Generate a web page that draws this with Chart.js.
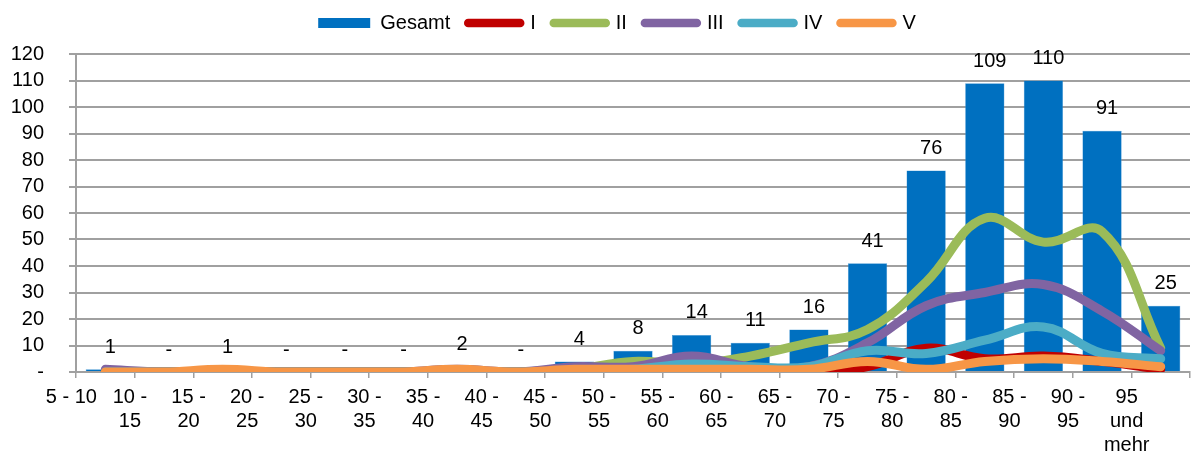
<!DOCTYPE html>
<html>
<head>
<meta charset="utf-8">
<script src="https://cdn.jsdelivr.net/npm/chart.js@4"></script>
<style>
  html, body { margin: 0; padding: 0; background: #fff; }
  #wrap { width: 1192px; height: 454px; }
</style>
</head>
<body>
<div id="wrap"><canvas id="alter"></canvas></div>
<script>
const categories = ["5 - 10", "10 - 15", "15 - 20", "20 - 25", "25 - 30", "30 - 35", "35 - 40", "40 - 45", "45 - 50",
  "50 - 55", "55 - 60", "60 - 65", "65 - 70", "70 - 75", "75 - 80", "80 - 85", "85 - 90", "90 - 95", "95 und mehr"];
const gesamt = [1, 0, 1, 0, 0, 0, 2, 0, 4, 8, 14, 11, 16, 41, 76, 109, 110, 91, 25];
const stufeI = [0, 0, 0, 0, 0, 0, 0, 0, 0, 0, 1, 0, 0, 2, 9, 5, 6, 4, 1];
const stufeII = [0, 0, 0, 0, 0, 0, 0, 0, 1, 4, 3, 6, 11, 16, 34, 58, 49, 53, 9];
const stufeIII = [1, 0, 0, 0, 0, 0, 1, 0, 2, 2, 6, 2, 2, 11, 25, 30, 33, 23, 8];
const stufeIV = [0, 0, 0, 0, 0, 0, 0, 0, 0, 1, 3, 2, 2, 8, 7, 12, 17, 7, 5];
const stufeV = [0, 0, 1, 0, 0, 0, 1, 0, 1, 1, 1, 1, 1, 4, 1, 4, 5, 4, 2];

const FONT = "'Liberation Sans', Arial, sans-serif";
const GRID = "#a0a0a0";

function lineSet(label, data, color, order) {
  return {
    type: "line",
    label: label,
    data: data,
    borderColor: color,
    backgroundColor: color,
    borderWidth: 9,
    borderCapStyle: "round",
    borderJoinStyle: "round",
    tension: 0.4,
    pointRadius: 0,
    pointHoverRadius: 0,
    fill: false,
    clip: 0,
    order: order,
  };
}

// Zahlen ueber den Saeulen
const barLabels = {
  id: "barLabels",
  afterDatasetsDraw(chart) {
    const ctx = chart.ctx;
    const meta = chart.getDatasetMeta(0);
    ctx.save();
    ctx.font = "20px " + FONT;
    ctx.fillStyle = "#000";
    ctx.textAlign = "center";
    ctx.textBaseline = "middle";
    meta.data.forEach((bar, i) => {
      const v = gesamt[i];
      ctx.fillText(v === 0 ? "-" : String(v), bar.x + 5, bar.y - 22);
    });
    ctx.restore();
  },
};

// Legende etwas nach rechts und oben schieben (wie im Original)
const legendShift = {
  id: "legendShift",
  afterLayout(chart) {
    const l = chart.legend;
    l.left += 44;
    l.top -= 5;
    l.bottom -= 5;
  },
};

const ctx = document.getElementById("alter");
const chart = new Chart(ctx, {
  type: "bar",
  data: {
    labels: categories,
    datasets: [
      {
        label: "Gesamt",
        data: gesamt,
        backgroundColor: "#0070c0",
        borderColor: "#4a9ad6",
        borderWidth: 0.5,
        categoryPercentage: 1,
        barPercentage: 0.67,
        order: 10,
      },
      lineSet("I", stufeI, "#c00000", 5),
      lineSet("II", stufeII, "#9bbb59", 4),
      lineSet("III", stufeIII, "#8064a2", 3),
      lineSet("IV", stufeIV, "#4bacc6", 2),
      lineSet("V", stufeV, "#f79646", 1),
    ],
  },
  plugins: [barLabels, legendShift],
  options: {
    responsive: true,
    maintainAspectRatio: false,
    animation: false,
    layout: { padding: { top: 0, right: 2, left: 0, bottom: 0 } },
    plugins: {
      tooltip: { enabled: false },
      legend: {
        position: "top",
        labels: {
          color: "#000",
          font: { family: FONT, size: 20 },
          usePointStyle: true,
          pointStyleWidth: 52,
          boxHeight: 10,
          padding: 18,
          generateLabels(chart) {
            return chart.data.datasets.map((ds, i) => ({
              text: ds.label,
              datasetIndex: i,
              fillStyle: ds.backgroundColor,
              strokeStyle: i === 0 ? ds.backgroundColor : ds.borderColor,
              lineWidth: i === 0 ? 0 : 8.5,
              lineCap: "round",
              pointStyle: i === 0 ? "rect" : "line",
              hidden: false,
              fontColor: "#000",
            }));
          },
        },
      },
    },
    scales: {
      // leere Achse oben, nur als Abstand zwischen Legende und Diagramm
      xTop: {
        type: "category",
        position: "top",
        grid: { display: false, drawTicks: false },
        border: { display: false },
        ticks: { display: false },
        afterFit(scale) { scale.height = 6; },
      },
      x: {
        grid: {
          offset: true,
          drawOnChartArea: false,
          drawTicks: true,
          tickLength: 6,
          color: GRID,
          lineWidth: 1.5,
        },
        border: { display: true, color: GRID, width: 2 },
        afterFit(scale) { scale.height = 82; },
        ticks: {
          color: "#000",
          font: { family: FONT, size: 20, lineHeight: 1.2 },
          maxRotation: 0,
          autoSkip: false,
          padding: 7,
          labelOffset: -34,
          callback(value, index) {
            const t = categories[index];
            if (index === 0) return t;
            if (t.indexOf(" und ") > 0) return t.split(" ");
            const p = t.split(" - ");
            return [p[0] + " -", p[1]];
          },
        },
      },
      y: {
        min: 0,
        max: 120,
        afterFit(scale) { scale.width = 76; },
        grid: { color: GRID, lineWidth: 2, tickLength: 7 },
        border: { display: true, color: GRID, width: 2 },
        ticks: {
          stepSize: 10,
          autoSkip: false,
          color: "#000",
          font: { family: FONT, size: 20, lineHeight: 1 },
          padding: 25,
          callback(value) { return value === 0 ? "-" : value; },
        },
      },
    },
  },
});
</script>
</body>
</html>
